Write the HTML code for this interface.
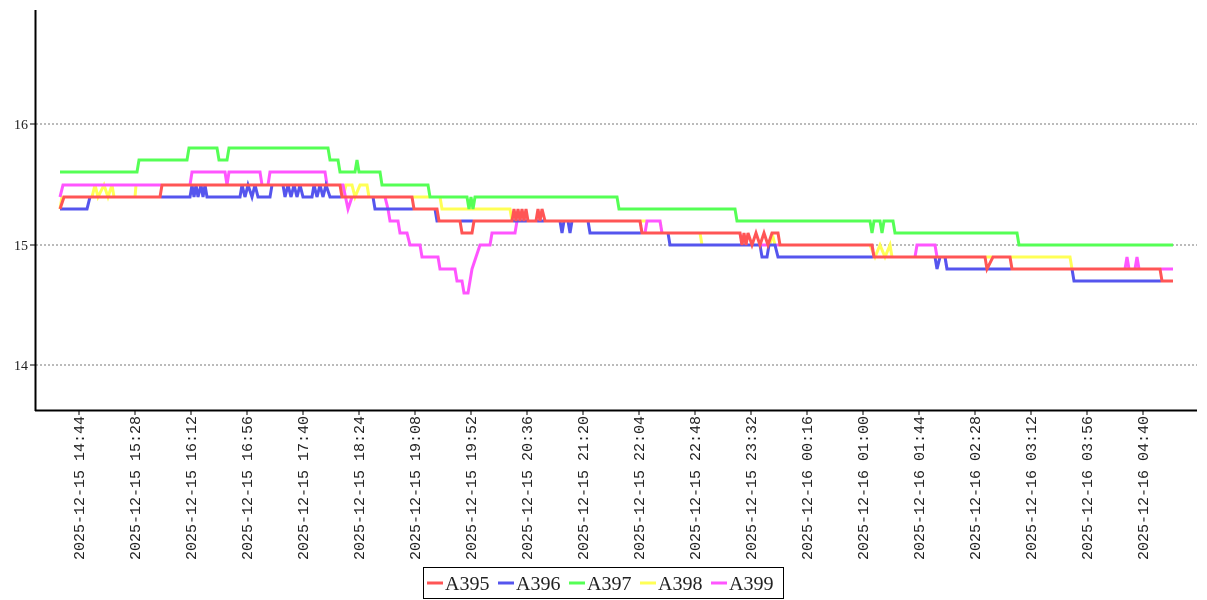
<!DOCTYPE html>
<html><head><style>
html,body{margin:0;padding:0;background:#fff;width:1207px;height:600px;overflow:hidden}
svg text{font-family:"Liberation Mono",monospace;fill:#222}
svg text.ser{font-family:"Liberation Serif",serif}
</style></head><body>
<svg width="1207" height="600" xmlns="http://www.w3.org/2000/svg">
<g stroke="#777" stroke-dasharray="2,2" stroke-width="1">
<line x1="36" y1="124" x2="1197" y2="124"/>
<line x1="36" y1="245" x2="1197" y2="245"/>
<line x1="36" y1="365" x2="1197" y2="365"/>
</g>
<g fill="none" stroke-width="3" stroke-linejoin="miter">
<polyline stroke="#ffff55" points="60,209 62,197 92,197 95,185 98,197 104,185 108,197 112,185 114,197 135,197 136,185 340,185 343,197 346,185 352,185 355,197 360,185 367,185 369,197 440,197 442,209 510,209 512,221 660,221 662,233 700,233 702,245 770,245 772,233 775,245 870,245 875,257 880,245 885,257 890,245 892,257 1010,257 1070,257 1072,269 1160,269 1162,269 1173,269"/>
<polyline stroke="#ff55ff" points="60,197 63,185 190,185 192,172 225,172 227,185 229,172 260,172 262,185 268,185 270,172 325,172 327,185 343,185 348,209 352,197 385,197 388,209 390,221 398,221 400,233 407,233 410,245 420,245 422,257 438,257 440,269 455,269 457,281 462,281 464,293 468,293 470,281 472,269 476,257 480,245 490,245 492,233 515,233 517,221 640,221 642,233 645,233 647,221 660,221 662,233 740,233 742,245 872,245 874,257 915,257 917,245 935,245 937,257 945,257 947,269 1125,269 1127,257 1129,269 1135,269 1137,257 1139,269 1173,269"/>
<polyline stroke="#5555ee" points="60,209 87,209 90,197 190,197 192,185 194,197 196,185 198,197 201,185 203,197 205,185 207,197 240,197 242,185 245,197 248,185 252,197 255,185 258,197 270,197 272,185 283,185 285,197 288,185 291,197 294,185 297,197 300,185 303,197 312,197 314,185 317,197 320,185 323,197 326,185 330,197 373,197 375,209 435,209 437,221 560,221 562,233 564,221 568,221 570,233 572,221 588,221 590,233 668,233 670,245 760,245 762,257 767,257 769,245 775,245 778,257 935,257 937,269 940,257 945,257 947,269 950,269 1072,269 1074,281 1173,281"/>
<polyline stroke="#55ff55" points="60,172 137,172 139,160 187,160 189,148 217,148 219,160 227,160 229,148 328,148 330,160 338,160 340,172 355,172 357,160 359,172 380,172 382,185 428,185 430,197 467,197 469,209 471,197 473,209 475,197 617,197 619,209 735,209 737,221 870,221 872,233 874,221 880,221 882,233 884,221 893,221 895,233 1017,233 1019,245 1173,245"/>
<polyline stroke="#ff5555" points="60,209 64,197 160,197 162,185 340,185 342,197 412,197 414,209 437,209 439,221 460,221 462,233 472,233 474,221 512,221 514,209 516,221 518,209 520,221 522,209 524,221 526,209 528,221 536,221 538,209 540,221 542,209 545,221 640,221 642,233 740,233 742,245 744,233 746,245 748,233 752,245 756,233 760,245 764,233 768,245 772,233 778,233 780,245 872,245 874,257 985,257 987,269 993,257 1010,257 1012,269 1160,269 1162,281 1173,281"/>
</g>
<line x1="35.5" y1="10" x2="35.5" y2="411" stroke="#000" stroke-width="2"/>
<line x1="35" y1="410.5" x2="1197" y2="410.5" stroke="#000" stroke-width="2"/>
<g stroke="#000"><line x1="30" y1="124" x2="35" y2="124"/><line x1="30" y1="245" x2="35" y2="245"/><line x1="30" y1="365" x2="35" y2="365"/></g>
<g font-size="14" text-anchor="end">
<text class="ser" x="28" y="129">16</text><text class="ser" x="28" y="250">15</text><text class="ser" x="28" y="370">14</text>
</g>
<g font-size="15">
<g transform="translate(84,560) rotate(-90)"><text>2025-12-15 14:44</text></g>
<g transform="translate(140,560) rotate(-90)"><text>2025-12-15 15:28</text></g>
<g transform="translate(196,560) rotate(-90)"><text>2025-12-15 16:12</text></g>
<g transform="translate(252,560) rotate(-90)"><text>2025-12-15 16:56</text></g>
<g transform="translate(308,560) rotate(-90)"><text>2025-12-15 17:40</text></g>
<g transform="translate(364,560) rotate(-90)"><text>2025-12-15 18:24</text></g>
<g transform="translate(420,560) rotate(-90)"><text>2025-12-15 19:08</text></g>
<g transform="translate(476,560) rotate(-90)"><text>2025-12-15 19:52</text></g>
<g transform="translate(532,560) rotate(-90)"><text>2025-12-15 20:36</text></g>
<g transform="translate(588,560) rotate(-90)"><text>2025-12-15 21:20</text></g>
<g transform="translate(644,560) rotate(-90)"><text>2025-12-15 22:04</text></g>
<g transform="translate(700,560) rotate(-90)"><text>2025-12-15 22:48</text></g>
<g transform="translate(756,560) rotate(-90)"><text>2025-12-15 23:32</text></g>
<g transform="translate(812,560) rotate(-90)"><text>2025-12-16 00:16</text></g>
<g transform="translate(868,560) rotate(-90)"><text>2025-12-16 01:00</text></g>
<g transform="translate(924,560) rotate(-90)"><text>2025-12-16 01:44</text></g>
<g transform="translate(980,560) rotate(-90)"><text>2025-12-16 02:28</text></g>
<g transform="translate(1036,560) rotate(-90)"><text>2025-12-16 03:12</text></g>
<g transform="translate(1092,560) rotate(-90)"><text>2025-12-16 03:56</text></g>
<g transform="translate(1148,560) rotate(-90)"><text>2025-12-16 04:40</text></g>
</g>
<g stroke="#000">
<line x1="79" y1="411" x2="79" y2="415"/><line x1="135" y1="411" x2="135" y2="415"/><line x1="191" y1="411" x2="191" y2="415"/><line x1="247" y1="411" x2="247" y2="415"/><line x1="303" y1="411" x2="303" y2="415"/><line x1="359" y1="411" x2="359" y2="415"/><line x1="415" y1="411" x2="415" y2="415"/><line x1="471" y1="411" x2="471" y2="415"/><line x1="527" y1="411" x2="527" y2="415"/><line x1="583" y1="411" x2="583" y2="415"/><line x1="639" y1="411" x2="639" y2="415"/><line x1="695" y1="411" x2="695" y2="415"/><line x1="751" y1="411" x2="751" y2="415"/><line x1="807" y1="411" x2="807" y2="415"/><line x1="863" y1="411" x2="863" y2="415"/><line x1="919" y1="411" x2="919" y2="415"/><line x1="975" y1="411" x2="975" y2="415"/><line x1="1031" y1="411" x2="1031" y2="415"/><line x1="1087" y1="411" x2="1087" y2="415"/><line x1="1143" y1="411" x2="1143" y2="415"/>
</g>
<rect x="423.5" y="567.5" width="360" height="31" fill="#fff" stroke="#000"/>
<g stroke-width="3">
<line x1="427" y1="583" x2="443" y2="583" stroke="#ff5555"/>
<line x1="498" y1="583" x2="514" y2="583" stroke="#5555ee"/>
<line x1="569" y1="583" x2="585" y2="583" stroke="#55ff55"/>
<line x1="640" y1="583" x2="656" y2="583" stroke="#ffff55"/>
<line x1="711" y1="583" x2="727" y2="583" stroke="#ff55ff"/>
</g>
<g font-size="20">
<text class="ser" x="445" y="590">A395</text><text class="ser" x="516" y="590">A396</text><text class="ser" x="587" y="590">A397</text><text class="ser" x="658" y="590">A398</text><text class="ser" x="729" y="590">A399</text>
</g>
</svg>
</body></html>
